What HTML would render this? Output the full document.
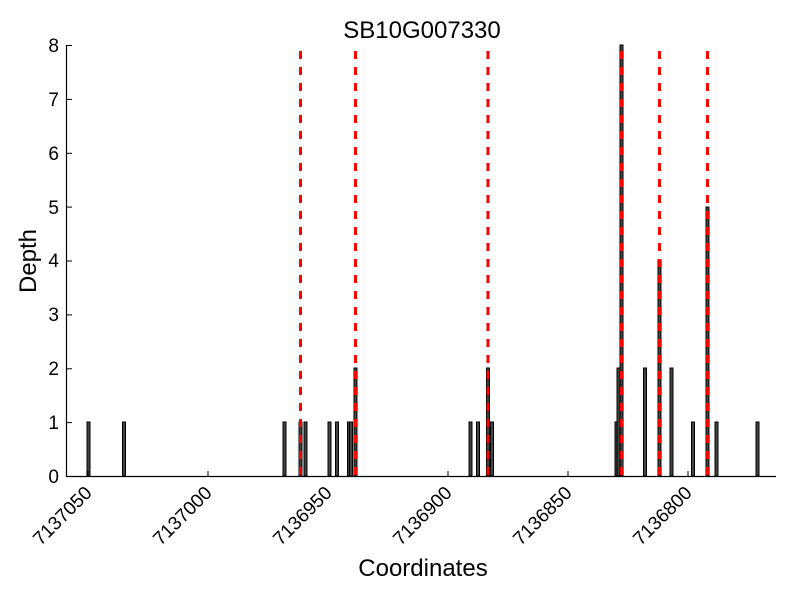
<!DOCTYPE html>
<html><head><style>body{margin:0;background:#fff}</style></head><body>
<svg width="800" height="600" xmlns="http://www.w3.org/2000/svg" font-family="Liberation Sans, sans-serif">
<rect width="800" height="600" fill="#fff"/>
<text x="422" y="38" font-size="24" text-anchor="middle">SB10G007330</text>
<g fill="#444" stroke="#000" stroke-width="1">
<rect x="87" y="422" width="3" height="54"/>
<rect x="122.5" y="422" width="3" height="54"/>
<rect x="283" y="422" width="3" height="54"/>
<rect x="299" y="422" width="3" height="54"/>
<rect x="304" y="422" width="3" height="54"/>
<rect x="328" y="422" width="3" height="54"/>
<rect x="335.5" y="422" width="3" height="54"/>
<rect x="347.5" y="422" width="3" height="54"/>
<rect x="349.5" y="422" width="3" height="54"/>
<rect x="354" y="368" width="3" height="108"/>
<rect x="469" y="422" width="3" height="54"/>
<rect x="476.5" y="422" width="3" height="54"/>
<rect x="486.5" y="368" width="3" height="108"/>
<rect x="490.5" y="422" width="3" height="54"/>
<rect x="615" y="422" width="3" height="54"/>
<rect x="617" y="368" width="3" height="108"/>
<rect x="620" y="45" width="3" height="431"/>
<rect x="643.5" y="368" width="3" height="108"/>
<rect x="658" y="260" width="3" height="216"/>
<rect x="670" y="368" width="3" height="108"/>
<rect x="691.5" y="422" width="3" height="54"/>
<rect x="706" y="207" width="3" height="269"/>
<rect x="715" y="422" width="3" height="54"/>
<rect x="756" y="422" width="3" height="54"/>
</g>
<g stroke="#f00" stroke-width="3" stroke-dasharray="8,8">
<line x1="300.5" y1="51" x2="300.5" y2="476"/>
<line x1="355.5" y1="51" x2="355.5" y2="476"/>
<line x1="488" y1="51" x2="488" y2="476"/>
<line x1="621.5" y1="51" x2="621.5" y2="476"/>
<line x1="659.5" y1="51" x2="659.5" y2="476"/>
<line x1="707.5" y1="51" x2="707.5" y2="476"/>
</g>
<g stroke="#000" stroke-width="1.2" fill="none">
<line x1="66.5" y1="45" x2="66.5" y2="476.5"/>
<line x1="66" y1="476.5" x2="776" y2="476.5"/>
</g>
<g stroke="#000" stroke-width="1">
<line x1="67" y1="45.5" x2="72" y2="45.5"/><line x1="67" y1="99.4" x2="72" y2="99.4"/>
<line x1="67" y1="153.3" x2="72" y2="153.3"/><line x1="67" y1="207.1" x2="72" y2="207.1"/>
<line x1="67" y1="261" x2="72" y2="261"/><line x1="67" y1="314.9" x2="72" y2="314.9"/>
<line x1="67" y1="368.8" x2="72" y2="368.8"/><line x1="67" y1="422.6" x2="72" y2="422.6"/>
<line x1="88" y1="476" x2="88" y2="471"/><line x1="208" y1="476" x2="208" y2="471"/>
<line x1="328" y1="476" x2="328" y2="471"/><line x1="448" y1="476" x2="448" y2="471"/>
<line x1="568" y1="476" x2="568" y2="471"/><line x1="688" y1="476" x2="688" y2="471"/>
</g>
<g font-size="19" text-anchor="end">
<text x="59" y="483">0</text><text x="59" y="429">1</text><text x="59" y="375">2</text>
<text x="59" y="321">3</text><text x="59" y="267">4</text><text x="59" y="214">5</text>
<text x="59" y="160">6</text><text x="59" y="106">7</text><text x="59" y="52">8</text>
</g>
<g font-size="19" text-anchor="end">
<text transform="translate(93,494) rotate(-45)">7137050</text>
<text transform="translate(213,494) rotate(-45)">7137000</text>
<text transform="translate(333,494) rotate(-45)">7136950</text>
<text transform="translate(453,494) rotate(-45)">7136900</text>
<text transform="translate(573,494) rotate(-45)">7136850</text>
<text transform="translate(693,494) rotate(-45)">7136800</text>
</g>
<text x="423" y="576" font-size="24" text-anchor="middle">Coordinates</text>
<text transform="translate(36,261) rotate(-90)" font-size="24" text-anchor="middle">Depth</text>
</svg>
</body></html>
